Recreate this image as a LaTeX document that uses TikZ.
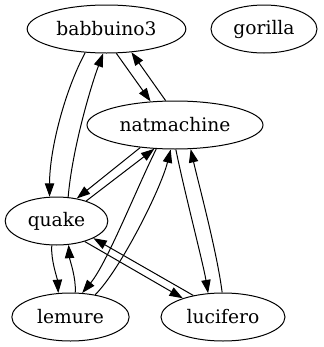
\documentclass[tikz,border=0pt]{standalone}
\usepackage{fontspec}
\setmainfont{DejaVu Serif}
\usetikzlibrary{shapes.geometric,arrows.meta}
\begin{document}
\begin{tikzpicture}[x=0.75pt,y=-0.75pt,
  vertex/.style={draw,ellipse,line width=0.75pt,inner sep=0pt,minimum height=36pt,font=\fontsize{14}{16}\selectfont},
  edge/.style={line width=0.75pt,-{Triangle[length=10pt,width=7pt]}}]
\useasboundingbox (0,0) rectangle (324,347);
\node[vertex,minimum width=119pt] (b) at (106.5,29) {babbuino3};
\node[vertex,minimum width=79.5pt] (g) at (264,29) {gorilla};
\node[vertex,minimum width=132pt] (n) at (175,125) {natmachine};
\node[vertex,minimum width=77pt] (q) at (56.5,221) {quake};
\node[vertex,minimum width=88pt] (l) at (70.5,317) {lemure};
\node[vertex,minimum width=93pt] (u) at (223,317) {lucifero};
\draw[edge] (b.228) .. controls +(-20,37) and +(0,-48) .. (q.106);
\draw[edge] (q.64) .. controls +(4,-47) and +(-13,35) .. (b.262);
\draw[edge] (b.292) -- (n.136);
\draw[edge] (n.111) -- (b.317);
\draw[edge] (n.213) -- (q.48);
\draw[edge] (q.34) -- (n.229);
\draw[edge] (n.232) .. controls +(-20,40) and +(25,-30) .. (l.64);
\draw[edge] (l.42) .. controls +(25,-25) and +(-10,40) .. (n.260);
\draw[edge] (n.272) .. controls +(8,40) and +(-5,-30) .. (u.122);
\draw[edge] (u.92) .. controls +(-5,-40) and +(8,35) .. (n.303);
\draw[edge] (q.259) .. controls +(-1,15) and +(-1,-15) .. (l.117);
\draw[edge] (l.79) .. controls +(1,-15) and +(1,15) .. (q.297);
\draw[edge] (q.324) -- (u.155);
\draw[edge] (u.144) -- (q.335);
\end{tikzpicture}
\end{document}
